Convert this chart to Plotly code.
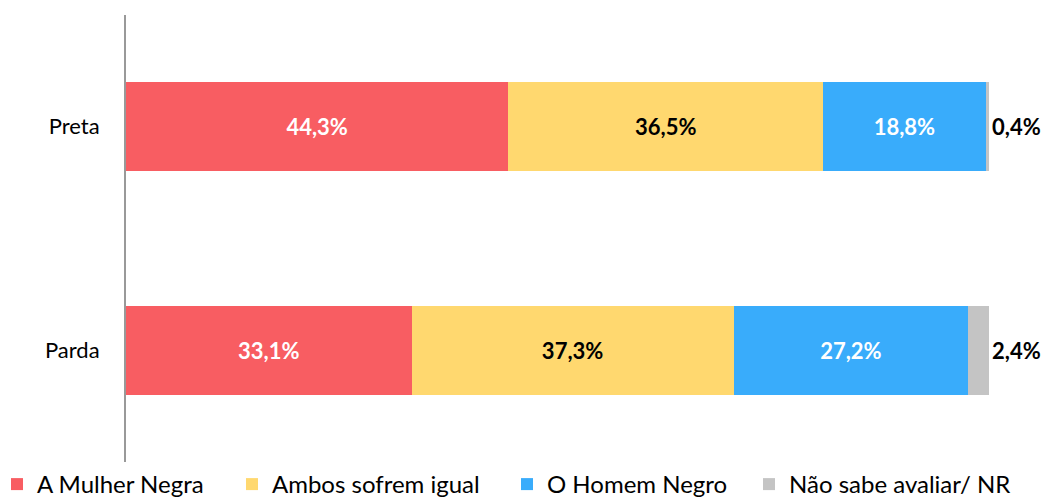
import plotly.graph_objects as go

categories = ["Preta", "Parda"]
series_names = ["A Mulher Negra", "Ambos sofrem igual", "O Homem Negro", "Não sabe avaliar/ NR"]
mulher = [44.3, 33.1]
ambos = [36.5, 37.3]
homem = [18.8, 27.2]
nao_sabe = [0.4, 2.4]

colors = ["#F85D62", "#FFD86F", "#39ACFB", "#C4C4C4"]
label_colors = ["white", "black", "white", None]
legend_x = [-0.1495, 0.1228, 0.4415, 0.7219]
legend_ids = ["legend", "legend2", "legend3", "legend4"]
FONT = "Lato, Open Sans, sans-serif"


def fmt(v):
    return f"{v:.1f}".replace(".", ",") + "%"


fig = go.Figure()
for name, vals, col, lc, lg in zip(series_names, [mulher, ambos, homem, nao_sabe],
                                   colors, label_colors, legend_ids):
    fig.add_trace(go.Bar(
        y=categories, x=vals, name=name, orientation="h", legend=lg,
        marker=dict(color=col, line=dict(width=0)),
        text=[fmt(v) for v in vals] if lc else None,
        textposition="inside" if lc else "none",
        insidetextanchor="middle",
        textfont=dict(family=FONT, size=22, color=lc or "black", weight="bold"),
        hoverinfo="skip",
    ))

# small last segment labelled just right of the bar end
for cat, m, a, h, n in zip(categories, mulher, ambos, homem, nao_sabe):
    end = round(m + a + h + n, 6)
    fig.add_annotation(x=end, y=cat, text=f"<b>{fmt(n)}</b>", showarrow=False,
                       xanchor="left", xshift=1,
                       font=dict(family=FONT, size=22, color="black"))

legend_style = dict(orientation="h", xanchor="left", y=0.0, yanchor="top",
                    font=dict(size=24), itemclick=False, itemwidth=30,
                    bgcolor="rgba(0,0,0,0)")

fig.update_layout(
    barmode="stack",
    bargap=0.6,
    width=1046, height=499,
    margin=dict(l=126, r=57, t=15, b=37, autoexpand=False),
    plot_bgcolor="white", paper_bgcolor="white",
    font=dict(family=FONT, size=22, color="black"),
    xaxis=dict(range=[0, 100], visible=False, fixedrange=True),
    yaxis=dict(categoryorder="array", categoryarray=categories, autorange="reversed",
               showline=True, linecolor="#999999", linewidth=2, ticks="",
               ticklabelstandoff=20, tickfont=dict(size=22), showgrid=False),
    showlegend=True,
)
for lg, lx in zip(legend_ids, legend_x):
    fig.update_layout({lg: dict(x=lx, **legend_style)})

fig.write_html("out.html")
